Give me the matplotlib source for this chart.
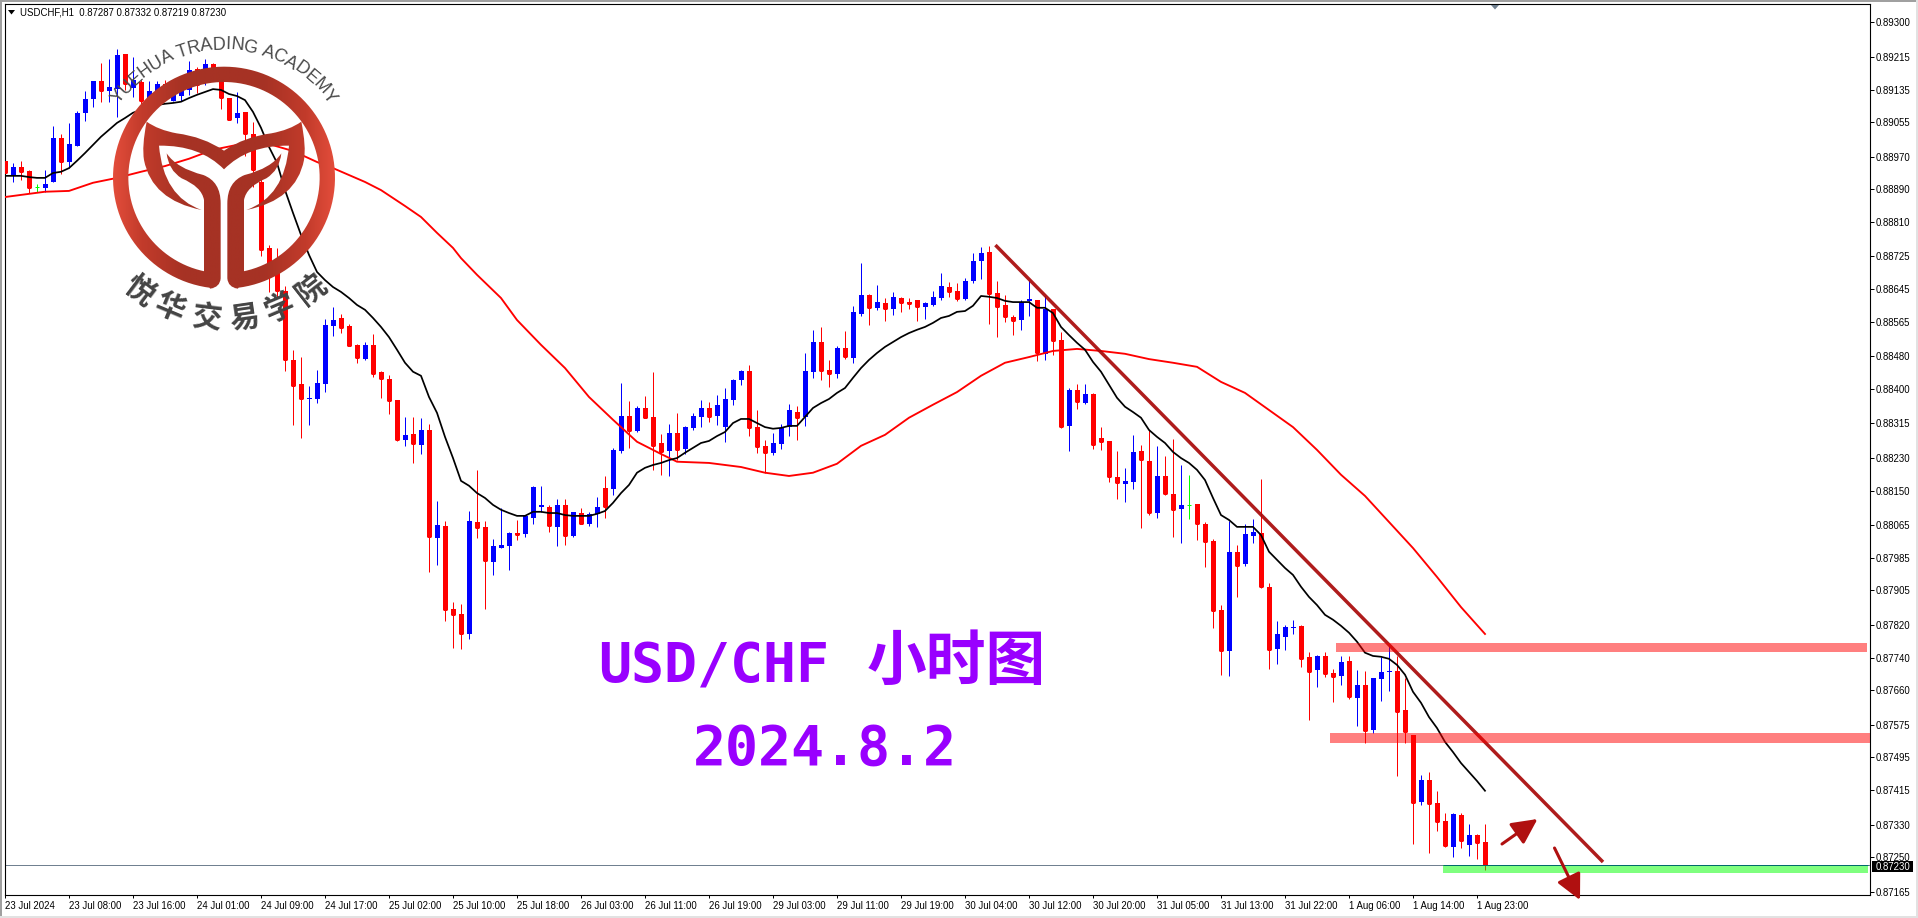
#! /usr/bin/env python3
# -*- coding: utf-8 -*-
import numpy as np
import matplotlib
matplotlib.use('Agg')
import matplotlib.pyplot as plt
from matplotlib.colors import LinearSegmentedColormap
from matplotlib.font_manager import FontProperties
from matplotlib.patches import PathPatch, Rectangle, Polygon
from matplotlib.path import Path
from matplotlib.textpath import text_to_path

##################################################
#################### DATA ########################
##################################################
# USDCHF H1, prices in points (1e-5)
opens = [
    88960, 88925, 88945, 88935, 88896, 88893, 88908, 89016, 88957, 88996,
    89078, 89112, 89156, 89132, 89136, 89222, 89139, 89154, 89109, 89122,
    89149, 89107, 89119, 89134, 89186, 89163, 89198, 89163, 89114, 89065,
    89080, 89026, 88908, 88746, 88692, 88640, 88471, 88412, 88375, 88375,
    88412, 88555, 88574, 88555, 88508, 88473, 88508, 88442, 88424, 88373,
    88275, 88289, 88262, 88299, 88034, 88063, 87860, 87847, 87798, 88073,
    88061, 87975, 88009, 88014, 88046, 88044, 88083, 88110, 88110, 88061,
    88115, 88039, 88095, 88068, 88093, 88157, 88154, 88248, 88334, 88297,
    88353, 88331, 88267, 88248, 88292, 88252, 88304, 88331, 88353, 88334,
    88306, 88373, 88422, 88444, 88306, 88260, 88243, 88265, 88306, 88343,
    88331, 88442, 88515, 88446, 88437, 88500, 88476, 88584, 88631, 88599,
    88611, 88596, 88623, 88613, 88618, 88601, 88606, 88623, 88650, 88640,
    88621, 88665, 88714, 88736, 88636, 88606, 88577, 88569, 88616, 88618,
    88486, 88596, 88520, 88309, 88397, 88365, 88388, 88279, 88272, 88184,
    88167, 88171, 88248, 88223, 88095, 88186, 88142, 88105, 88115, 88117,
    88068, 88027, 87857, 87756, 88000, 87970, 88039, 88046, 87914, 87761,
    87791, 87813, 87818, 87742, 87710, 87744, 87702, 87695, 87732, 87641,
    87673, 87562, 87688, 87705, 87707, 87612, 87550, 87386, 87440, 87383,
    87339, 87275, 87354, 87280, 87305, 87287]
highs = [
    88972, 88955, 88960, 88938, 88903, 88938, 89046, 89026, 89053, 89082,
    89132, 89156, 89200, 89210, 89235, 89222, 89215, 89159, 89156, 89156,
    89159, 89139, 89139, 89205, 89190, 89210, 89200, 89183, 89114, 89129,
    89080, 89055, 88925, 88753, 88746, 88653, 88496, 88478, 88407, 88446,
    88572, 88601, 88584, 88559, 88510, 88515, 88535, 88444, 88434, 88373,
    88331, 88331, 88329, 88314, 88125, 88076, 87877, 87872, 88100, 88201,
    88076, 88031, 88108, 88049, 88078, 88090, 88162, 88162, 88115, 88130,
    88130, 88098, 88108, 88098, 88135, 88186, 88255, 88415, 88370, 88358,
    88383, 88442, 88289, 88314, 88341, 88309, 88341, 88373, 88368, 88385,
    88402, 88424, 88446, 88459, 88348, 88275, 88292, 88314, 88363, 88358,
    88488, 88545, 88552, 88471, 88505, 88542, 88604, 88709, 88633, 88655,
    88623, 88638, 88626, 88623, 88618, 88613, 88640, 88685, 88663, 88660,
    88672, 88734, 88748, 88751, 88665, 88631, 88582, 88618, 88667, 88618,
    88628, 88596, 88540, 88402, 88412, 88412, 88390, 88306, 88272, 88248,
    88206, 88287, 88262, 88299, 88260, 88235, 88277, 88213, 88189, 88117,
    88073, 88031, 87869, 88076, 88017, 88068, 88081, 88179, 87923, 87830,
    87820, 87833, 87820, 87754, 87747, 87754, 87712, 87744, 87744, 87710,
    87707, 87690, 87742, 87769, 87744, 87690, 87550, 87452, 87459, 87413,
    87359, 87359, 87359, 87332, 87307, 87332]
lows = [
    88908, 88908, 88913, 88881, 88884, 88884, 88908, 88928, 88942, 88996,
    89058, 89092, 89105, 89105, 89068, 89134, 89117, 89092, 89097, 89109,
    89109, 89107, 89107, 89122, 89127, 89146, 89159, 89087, 89060, 89053,
    88972, 88896, 88726, 88638, 88626, 88444, 88311, 88279, 88311, 88365,
    88392, 88530, 88537, 88505, 88464, 88471, 88429, 88378, 88338, 88272,
    88260, 88218, 88240, 87950, 87968, 87830, 87764, 87761, 87786, 88034,
    87860, 87943, 88009, 87955, 88029, 88036, 88068, 88098, 88049, 88014,
    88017, 88036, 88068, 88063, 88061, 88083, 88140, 88243, 88255, 88294,
    88329, 88201, 88189, 88186, 88225, 88240, 88299, 88306, 88319, 88311,
    88270, 88361, 88410, 88284, 88243, 88194, 88238, 88252, 88284, 88275,
    88309, 88427, 88422, 88405, 88427, 88473, 88464, 88579, 88557, 88594,
    88567, 88582, 88589, 88596, 88567, 88572, 88604, 88618, 88626, 88616,
    88618, 88660, 88670, 88559, 88527, 88564, 88532, 88545, 88579, 88469,
    88471, 88483, 88304, 88248, 88351, 88363, 88252, 88250, 88171, 88130,
    88122, 88154, 88059, 88090, 88083, 88140, 88036, 88022, 88081, 88029,
    87963, 87813, 87698, 87695, 87889, 87965, 88022, 87911, 87712, 87725,
    87759, 87798, 87717, 87587, 87668, 87693, 87631, 87673, 87639, 87572,
    87531, 87555, 87634, 87658, 87450, 87531, 87283, 87378, 87260, 87314,
    87275, 87251, 87273, 87253, 87246, 87219]
closes = [
    88930, 88945, 88933, 88893, 88896, 88903, 89016, 88957, 89001, 89078,
    89112, 89156, 89132, 89141, 89220, 89149, 89159, 89107, 89132, 89149,
    89122, 89134, 89134, 89183, 89146, 89198, 89171, 89114, 89060, 89078,
    89026, 88938, 88741, 88685, 88640, 88471, 88407, 88375, 88378, 88415,
    88557, 88569, 88550, 88505, 88476, 88508, 88437, 88424, 88370, 88275,
    88287, 88265, 88299, 88036, 88066, 87857, 87845, 87798, 88076, 88059,
    87977, 88014, 88017, 88046, 88041, 88088, 88159, 88115, 88063, 88115,
    88039, 88098, 88068, 88093, 88110, 88110, 88250, 88334, 88297, 88353,
    88329, 88260, 88245, 88292, 88250, 88306, 88334, 88353, 88331, 88361,
    88375, 88422, 88444, 88304, 88257, 88243, 88267, 88304, 88348, 88329,
    88444, 88515, 88444, 88437, 88500, 88478, 88589, 88631, 88599, 88613,
    88596, 88626, 88611, 88609, 88601, 88611, 88626, 88653, 88638, 88621,
    88665, 88714, 88734, 88633, 88601, 88577, 88567, 88613, 88621, 88488,
    88596, 88518, 88306, 88397, 88368, 88388, 88262, 88270, 88184, 88169,
    88174, 88245, 88225, 88095, 88186, 88142, 88103, 88115, 88115, 88068,
    88024, 87855, 87756, 88000, 87965, 88044, 88049, 87914, 87759, 87798,
    87815, 87815, 87737, 87705, 87744, 87700, 87693, 87729, 87644, 87673,
    87560, 87690, 87705, 87707, 87607, 87558, 87383, 87440, 87381, 87337,
    87278, 87356, 87290, 87305, 87285, 87230]
fast_ma = [
    88923, 88923, 88923, 88920, 88918, 88918, 88930, 88933, 88942, 88960,
    88979, 88999, 89019, 89036, 89053, 89065, 89078, 89085, 89092, 89097,
    89100, 89102, 89105, 89114, 89122, 89129, 89136, 89134, 89124, 89119,
    89109, 89080, 89041, 88994, 88955, 88888, 88832, 88778, 88729, 88687,
    88667, 88650, 88638, 88623, 88606, 88594, 88574, 88552, 88527, 88496,
    88464, 88442, 88432, 88380, 88341, 88282, 88230, 88174, 88162, 88144,
    88132, 88115, 88103, 88095, 88088, 88088, 88098, 88098, 88095, 88095,
    88090, 88088, 88088, 88088, 88093, 88100, 88120, 88144, 88164, 88194,
    88206, 88213, 88218, 88225, 88230, 88243, 88255, 88267, 88272, 88284,
    88294, 88316, 88326, 88326, 88316, 88306, 88302, 88304, 88309, 88309,
    88331, 88353, 88365, 88375, 88390, 88402, 88427, 88451, 88471, 88488,
    88503, 88515, 88527, 88537, 88545, 88552, 88562, 88574, 88579, 88589,
    88591, 88604, 88628, 88626, 88623, 88616, 88613, 88613, 88613, 88599,
    88599, 88586, 88552, 88532, 88513, 88496, 88466, 88442, 88410, 88378,
    88356, 88343, 88329, 88299, 88282, 88267, 88245, 88230, 88218, 88201,
    88176, 88132, 88090, 88078, 88061, 88061, 88061, 88041, 88000, 87980,
    87960, 87943, 87914, 87889, 87869, 87845, 87833, 87818, 87801, 87779,
    87752, 87744, 87742, 87737, 87722, 87698, 87656, 87629, 87594, 87567,
    87533, 87508, 87481, 87459, 87437, 87413]
slow_ma_bars = [
    0, 5, 8, 11, 14, 17, 20, 23, 26, 29, 33, 36, 39, 41, 45, 47, 50, 52, 54,
    56, 57, 59, 62, 64, 67, 70, 73, 76, 79, 82, 84, 88, 92, 95, 98, 101, 104,
    107, 110, 113, 116, 119, 122, 125, 128, 131, 134, 137, 140, 143, 146, 149,
    152, 155, 158, 161, 164, 167, 170, 173, 176, 179, 182, 185]
slow_ma = [
    88871, 88884, 88886, 88906, 88918, 88933, 88947, 88965, 88987, 88999,
    89001, 88984, 88957, 88942, 88908, 88888, 88849, 88822, 88783, 88746,
    88721, 88680, 88623, 88569, 88508, 88451, 88380, 88324, 88270, 88240,
    88221, 88218, 88208, 88194, 88186, 88194, 88216, 88260, 88287, 88329,
    88361, 88392, 88432, 88464, 88478, 88493, 88498, 88493, 88486, 88473,
    88464, 88454, 88417, 88390, 88348, 88306, 88250, 88189, 88137, 88073,
    88009, 87938, 87864, 87798]

trend_bars = [123.8, 199.75]
trend_prices = [0.88753, 0.87238]
zone_starts = [166.4, 165.6, 179.75]
zone_ends = [232.75, 233.1, 232.9]
zone_tops = [0.87776, 0.87555, 0.87231]
zone_bottoms = [0.87754, 0.87531, 0.87211]
zone_colors = ['red', 'red', 'lime']
last_price = 0.87230

y_ticks = ['0.89300', '0.89215', '0.89135', '0.89055', '0.88970', '0.88890',
           '0.88810', '0.88725', '0.88645', '0.88565', '0.88480', '0.88400',
           '0.88315', '0.88230', '0.88150', '0.88065', '0.87985', '0.87905',
           '0.87820', '0.87740', '0.87660', '0.87575', '0.87495', '0.87415',
           '0.87330', '0.87250', '0.87165']
x_ticks = ['23 Jul 2024', '23 Jul 08:00', '23 Jul 16:00', '24 Jul 01:00',
           '24 Jul 09:00', '24 Jul 17:00', '25 Jul 02:00', '25 Jul 10:00',
           '25 Jul 18:00', '26 Jul 03:00', '26 Jul 11:00', '26 Jul 19:00',
           '29 Jul 03:00', '29 Jul 11:00', '29 Jul 19:00', '30 Jul 04:00',
           '30 Jul 12:00', '30 Jul 20:00', '31 Jul 05:00', '31 Jul 13:00',
           '31 Jul 22:00', '1 Aug 06:00', '1 Aug 14:00', '1 Aug 23:00']

##################################################
#################### SETUP #######################
##################################################
W, H = 1918, 918
UI_FONT = 'Liberation Sans'
CJK = ['Noto Sans CJK SC', 'DejaVu Sans']
PURPLE = '#9900FF'
ARROW = '#B01010'

fig = plt.figure(figsize=(W / 100, H / 100), dpi=100, facecolor='white')
# candle i sits at pixel 5 + 8i, price scale is 40726 px per 1.0
ax = fig.add_axes([4.5 / W, 1 - 895 / H, (1870 - 4.5) / W, (895 - 4) / H])
ax.set_xlim(-0.0625, 233.125)
ax.set_ylim(0.87157, 0.89345)

##################################################
#################### CANDLES #####################
##################################################
o = np.array(opens) / 1e5
h = np.array(highs) / 1e5
l = np.array(lows) / 1e5
c = np.array(closes) / 1e5
bars = np.arange(len(o))
colors = ['#0000FF' if b > a else '#FF0000' if b < a else '#00FF00'
          for a, b in zip(o, c)]

ax.vlines(bars, l, h, colors=colors, linewidth=0.72, zorder=2)
ax.bar(bars, np.abs(c - o), bottom=np.minimum(o, c), width=0.625,
       color=colors, linewidth=0, zorder=3)
ax.hlines(c, bars - 0.31, bars + 0.31, colors=colors, linewidth=0.72, zorder=3)

ax.plot(slow_ma_bars, np.array(slow_ma) / 1e5, color='#FF0000', lw=1.35, zorder=4)
ax.plot(bars, np.array(fast_ma) / 1e5, color='black', lw=1.25, zorder=5)
ax.plot(trend_bars, trend_prices, color='#A80808', lw=2.5, alpha=0.92, zorder=6,
        solid_capstyle='butt')

ax.axhline(last_price, color='#708090', lw=0.72, zorder=1)
for i in range(len(zone_starts)):
    ax.fill_between([zone_starts[i], zone_ends[i]], zone_bottoms[i], zone_tops[i],
                    color=zone_colors[i], alpha=0.5, linewidth=0, zorder=7)
ax.hlines(last_price, zone_starts[2], zone_ends[2], colors='#006A6A', lw=0.72, zorder=8)

ax.yaxis.tick_right()
ax.set_yticks([float(t) for t in y_ticks])
ax.set_yticklabels(y_ticks, fontsize=6.9, family=UI_FONT)
ax.set_xticks(np.arange(len(x_ticks)) * 8)
ax.set_xticklabels(x_ticks, fontsize=6.9, family=UI_FONT, ha='left')
ax.tick_params(axis='y', length=2.9, width=0.72, pad=1.3)
ax.tick_params(axis='x', length=2.2, width=0.72, pad=2.2)
for spine in ax.spines.values():
    spine.set_linewidth(0.8)

##################################################
#################### OVERLAY #####################
##################################################
# decorations live on a pixel layer above the chart
top = fig.add_axes([0, 0, 1, 1], zorder=10)
top.patch.set_visible(False)
top.axis('off')

# window frame
top.add_patch(Rectangle((0, 0), W, 2, color='#A0A0A0', lw=0))
top.add_patch(Rectangle((0, 0), 2, H, color='#A0A0A0', lw=0))
top.add_patch(Rectangle((W - 2, 0), 2, H, color='#E2E2E2', lw=0))
top.add_patch(Rectangle((0, H - 2), W, 2, color='#E2E2E2', lw=0))

top.text(20, 12.5, 'USDCHF,H1  0.87287 0.87332 0.87219 0.87230', fontsize=6.9,
         family=UI_FONT, va='center', ha='left')
top.add_patch(Polygon([(8, 10), (15, 10), (11.5, 14.5)], color='black', lw=0))
top.add_patch(Polygon([(1491, 5), (1499, 5), (1495, 9.5)], color='#708090', lw=0))

# last price tag
top.add_patch(Rectangle((1872, 861), 41, 11, color='black', lw=0))
top.text(1876, 866.5, '0.87230', color='white', fontsize=6.9, family=UI_FONT,
         va='center', ha='left')

# chart title
top.text(598, 682, 'USD/CHF', color=PURPLE, fontsize=39.5, fontweight='bold',
         family='DejaVu Sans Mono', ha='left', va='baseline')
top.text(956, 663, '小时图', color=PURPLE, fontsize=43, fontweight='bold', family=CJK,
         ha='center', va='center')
top.text(825, 765, '2024.8.2', color=PURPLE, fontsize=39.5, fontweight='bold',
         family='DejaVu Sans Mono', ha='center', va='baseline')

# arrows
for start, end in [((1502, 844), (1537.5, 819)), ((1554.5, 848), (1580, 900))]:
    top.annotate('', xy=end, xytext=start, annotation_clip=False,
                 arrowprops=dict(arrowstyle='-|>,head_length=1.1,head_width=0.55',
                                 color=ARROW, lw=2.2, shrinkA=0, shrinkB=0,
                                 mutation_scale=14))


##################################################
#################### LOGO ########################
##################################################
def logo_center(x, y, mirror=False):
    # logo shapes were measured on a 3x crop
    if mirror:
        x = 2 * 672 - x
    return (x / 3, y / 3)


def curve_path(start, segments, mirror=False):
    verts = [logo_center(*start, mirror)]
    codes = [Path.MOVETO]
    for seg in segments:
        if len(seg) == 2:
            ctrl, end = seg
            verts += [logo_center(*ctrl, mirror), logo_center(*end, mirror)]
            codes += [Path.CURVE3, Path.CURVE3]
        else:
            verts.append(logo_center(*seg[0], mirror))
            codes.append(Path.LINETO)
    verts.append(verts[0])
    codes.append(Path.CLOSEPOLY)
    return Path(verts, codes)


def ring_path(mirror=False):
    angles = np.radians(np.linspace(90, 264.5, 120))
    outer = [(672 + 333 * np.cos(a), 533 - 333 * np.sin(a)) for a in angles]
    angles = np.radians(np.linspace(262, 90, 120))
    inner = [(672 + 287 * np.cos(a), 533 - 287 * np.sin(a)) for a in angles]
    return Path([logo_center(x, y, mirror) for x, y in outer + inner], closed=False)


HORN = ((672, 452), [((610, 410), (530, 400)), ((475, 390), (440, 365)),
                     ((425, 440), (432, 480)), ((455, 600), (605, 630)),
                     ((490, 590), (477, 437)), ((600, 435), (672, 508))])
LEAF = ((500, 460), [((530, 505), (610, 525)), ((662, 545), (662, 610)),
                     ((662, 835),), ((660, 862), (630, 866)), ((612, 815),),
                     ((612, 600),), ((605, 560), (545, 535)), ((505, 510), (500, 460))])

gradient = LinearSegmentedColormap.from_list(
    'logo', [(0, '#E34D3B'), (0.13, '#C23B2B'), (0.32, '#A63224'),
             (0.68, '#A63224'), (0.87, '#C23B2B'), (1, '#E34D3B')])
extent = (113, 335, 300, 0)
strip = np.linspace(0, 1, 256).reshape(1, -1)
for mirror in (False, True):
    for shape in (ring_path(mirror), curve_path(*HORN, mirror), curve_path(*LEAF, mirror)):
        im = top.imshow(strip, cmap=gradient, extent=extent, aspect='auto', zorder=3)
        im.set_clip_path(PathPatch(shape, transform=top.transData))


def arc_text(text, size_px, family):
    prop = FontProperties(family=family, size=size_px)
    widths = [text_to_path.get_text_width_height_descent(ch, prop, False)[0] for ch in text]
    radius = 133
    pos = -sum(widths) / 2
    for ch, w in zip(text, widths):
        angle = (pos + w / 2) / radius
        top.text(224 + radius * np.sin(angle), 178 - radius * np.cos(angle), ch,
                 fontsize=size_px * 0.72, family=family, color='#4A4A4A',
                 rotation=-np.degrees(angle), rotation_mode='anchor',
                 ha='center', va='center', zorder=4)
        pos += w


arc_text('YUEHUA TRADING ACADEMY', 18, 'Liberation Sans')
for ch, angle in zip('悦华交易学院', [-37, -22.7, -7, 8.2, 23, 38]):
    a = np.radians(angle)
    top.text(224 + 141 * np.sin(a), 178 + 141 * np.cos(a), ch, fontsize=21.5,
             fontweight='black', family=CJK, color='#444444', rotation=angle,
             rotation_mode='anchor', ha='center', va='center', zorder=4)

top.set_xlim(0, W)
top.set_ylim(H, 0)

fig.savefig('out.png', dpi=100)
